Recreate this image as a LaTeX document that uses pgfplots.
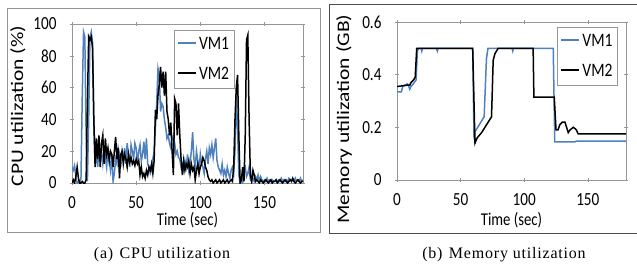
\documentclass[border=0pt]{standalone}
\usepackage{pgfplots}
\pgfplotsset{compat=1.18}
\usepackage{fontspec}
\setmainfont{Liberation Serif}
\newfontfamily\calf[FakeStretch=0.82]{Carlito}
\newfontfamily\calr{Carlito}
\newfontfamily\capf[LetterSpace=5]{Liberation Serif}
\definecolor{vmblue}{RGB}{79,129,189}
\definecolor{framegray}{RGB}{150,150,150}
\begin{document}
\begin{tikzpicture}
\useasboundingbox (0,0) rectangle (637pt,274pt);
\pgfplotsset{
  myaxis/.style={
    scale only axis,
    anchor=south west,
    axis line style={framegray, line width=0.8pt},
    tick style={framegray, line width=0.6pt},
    major tick length=4pt,
    tick align=center,
    /pgf/number format/assume math mode=true,
    tick label style={font=\calf\fontsize{18.5}{18.5}\selectfont},
    yticklabel style={xshift=-10pt},
    xticklabel style={yshift=-8pt},
    label style={font=\calf\fontsize{18}{18}\selectfont},
    xmin=0, xmax=180,
    xtick={0,50,100,150},
    legend cell align=left,
    legend style={draw=framegray, line width=0.8pt, font=\calf\fontsize{19}{19}\selectfont,
      inner xsep=3pt, inner ysep=5pt, row sep=12pt, anchor=north west},
    legend image code/.code={\draw[##1, line width=2pt] (0pt,1pt) -- (18pt,1pt);},
  }
}
% outer frames
\draw[framegray, line width=0.8pt] (7pt,42pt) rectangle (320pt,266pt);
\draw[black!70, line width=0.8pt] (329pt,41pt) rectangle (645pt,270pt);

% ---------------- CPU ----------------
\begin{axis}[myaxis,
  at={(72pt,91pt)}, width=231pt, height=159pt,
  ymin=0, ymax=100, ytick={0,20,40,60,80,100},
  xlabel={Time (sec)},
  xlabel style={at={(axis description cs:0.5,-0.233)}, anchor=center},
  ylabel={\calr\fontsize{21.5}{21.5}\selectfont\scalebox{1}[0.82]{CPU utilization (\%)}},
  ylabel style={at={(axis description cs:-0.234,0.484)}, anchor=center},
  legend style={at={(axis description cs:0.44,0.962)}},
]
\addplot[vmblue, line width=1.5pt] coordinates {
(0,10)(1,8)(2,11)(3,4)(4,0)(5,1)(6,0)(7,3)(8,55)(9,95)(10,92)(11,30)(12,1)(13,40)(14,92)(15,95)(16,88)(17,40)(18,12)(19,18)
(20,10)(21,22)(22,14)(23,19)(24,12)(25,20)(26,16)(27,10)(28,22)(29,14)(30,8)(31,18)(32,1)(33,6)(34,15)(35,12)(36,22)(37,18)(38,10)(39,20)
(40,15)(41,22)(42,12)(43,25)(44,18)(45,10)(46,24)(47,20)(48,15)(49,25)(50,22)(51,12)(52,20)(53,24)(54,14)(55,18)(56,26)(57,15)(58,28)(59,12)
(60,10)(61,6)(62,8)(63,15)(64,20)(65,35)(66,50)(67,72)(68,68)(69,45)(70,50)(71,48)(72,40)(73,35)(74,28)(75,30)(76,25)(77,22)(78,28)(79,30)
(80,25)(81,18)(82,20)(83,16)(84,15)(85,10)(86,12)(87,8)(88,14)(89,10)(90,18)(91,8)(92,12)(93,20)(94,32)(95,15)(96,10)(97,20)(98,14)(99,8)
(100,18)(101,12)(102,10)(103,6)(104,15)(105,20)(106,12)(107,22)(108,18)(109,24)(110,16)(111,22)(112,28)(113,14)(114,10)(115,8)(116,6)(117,12)(118,5)(119,8)
(120,4)(121,10)(122,6)(123,3)(124,8)(125,10)(126,6)(127,20)(128,55)(129,35)(130,5)(131,0)(132,2)(133,0)(134,8)(135,10)(136,4)(137,6)(138,10)(139,2)
(140,1)(141,3)(142,1)(143,4)(144,2)(145,5)(146,1)(147,4)(148,2)(149,1)(150,2)(151,1)(152,3)(153,1)(154,2)(155,1)(156,2)(157,1)(158,1)(159,2)
(160,1)(161,2)(162,1)(163,3)(164,1)(165,2)(166,1)(167,2)(168,1)(169,3)(170,2)(171,1)(172,2)(173,1)(174,3)(175,1)(176,2)(177,1)(178,3)(179,1)(180,2)
};
\addlegendentry{VM1}
\addplot[black, line width=1.5pt] coordinates {
(0,0)(1,2)(2,0)(3,4)(4,10)(5,3)(6,0)(7,0)(8,1)(9,0)(10,0)(11,2)(12,50)(13,92)(14,90)(15,92)(16,85)(17,40)(18,10)(19,28)
(20,15)(21,30)(22,10)(23,25)(24,30)(25,12)(26,28)(27,18)(28,22)(29,14)(30,20)(31,18)(32,10)(33,20)(34,29)(35,15)(36,22)(37,3)(38,18)(39,20)
(40,12)(41,18)(42,15)(43,10)(44,18)(45,13)(46,16)(47,12)(48,14)(49,11)(50,15)(51,12)(52,14)(53,5)(54,10)(55,4)(56,6)(57,3)(58,8)(59,5)
(60,10)(61,8)(62,12)(63,6)(64,14)(65,46)(66,40)(67,55)(68,62)(69,73)(70,60)(71,70)(72,55)(73,70)(74,45)(75,40)(76,30)(77,38)(78,20)(79,5)
(80,53)(81,50)(82,30)(83,50)(84,30)(85,15)(86,5)(87,14)(88,8)(89,12)(90,10)(91,14)(92,6)(93,12)(94,8)(95,10)(96,2)(97,8)(98,12)(99,6)
(100,10)(101,12)(102,16)(103,14)(104,10)(105,8)(106,4)(107,2)(108,1)(109,2)(110,0)(111,1)(112,2)(113,0)(114,1)(115,2)(116,0)(117,1)(118,2)(119,0)
(120,1)(121,2)(122,0)(123,1)(124,2)(125,1)(126,10)(127,40)(128,60)(129,68)(130,30)(131,0)(132,2)(133,10)(134,1)(135,30)(136,90)(137,93)(138,40)(139,5)
(140,1)(141,8)(142,5)(143,1)(144,2)(145,1)(146,0)(147,2)(148,1)(149,0)(150,1)(151,2)(152,1)(153,0)(154,1)(155,2)(156,0)(157,1)(158,1)(159,2)
(160,0)(161,1)(162,2)(163,1)(164,0)(165,1)(166,2)(167,1)(168,0)(169,1)(170,2)(171,1)(172,3)(173,1)(174,0)(175,1)(176,2)(177,1)(178,0)(179,1)(180,1)
};
\addlegendentry{VM2}
\end{axis}

% ---------------- Memory ----------------
\begin{axis}[myaxis,
  at={(397pt,94pt)}, width=229pt, height=158pt,
  ymin=0, ymax=0.6, ytick={0,0.2,0.4,0.6}, yticklabels={0,0.2,0.4,0.6},
  xlabel={Time (sec)},
  xlabel style={at={(axis description cs:0.5,-0.253)}, anchor=center},
  ylabel={\calr\fontsize{21.5}{21.5}\selectfont\scalebox{1}[0.82]{Memory utilization (GB)}},
  ylabel style={at={(axis description cs:-0.231,0.386)}, anchor=center},
  legend style={at={(axis description cs:0.699,0.968)}},
]
\addplot[vmblue, line width=1.5pt] coordinates {
(0,0.335)(3.5,0.335)(4.5,0.355)(6,0.36)(8,0.365)(9,0.36)(10,0.345)(11,0.355)(12,0.36)(13.5,0.37)(15,0.38)(16,0.49)(17,0.5)(19,0.5)(19.5,0.49)(20,0.5)
(31,0.5)(31.7,0.49)(32.3,0.5)(59.5,0.5)(60.5,0.17)(61.5,0.185)(68.5,0.24)(70.3,0.46)(71.5,0.5)(90.5,0.5)(91,0.49)(91.5,0.5)(122.8,0.5)(124,0.145)(140,0.145)(141,0.148)(180,0.148)
};
\addlegendentry{VM1}
\addplot[black, line width=1.5pt] coordinates {
(0,0.355)(8,0.36)(10,0.36)(11,0.37)(13,0.38)(14.3,0.39)(15.5,0.5)(59.5,0.5)(61.3,0.14)(63,0.16)(66.5,0.18)(74.3,0.24)(75.6,0.455)(77,0.48)(79.5,0.5)
(107,0.5)(107.6,0.315)(123.6,0.315)(125,0.19)(126.5,0.19)(128,0.21)(130,0.22)(132,0.22)(134.6,0.18)(136,0.19)(138.5,0.2)(140,0.195)(141,0.19)(142.4,0.175)(180,0.175)
};
\addlegendentry{VM2}
\end{axis}

% captions
\node[font=\capf\fontsize{16}{16}\selectfont] at (162pt,19pt) {(a)\hspace{0.4em}CPU utilization};
\node[font=\capf\fontsize{16}{16}\selectfont] at (504pt,19pt) {(b)\hspace{0.4em}Memory utilization};
\end{tikzpicture}
\end{document}
